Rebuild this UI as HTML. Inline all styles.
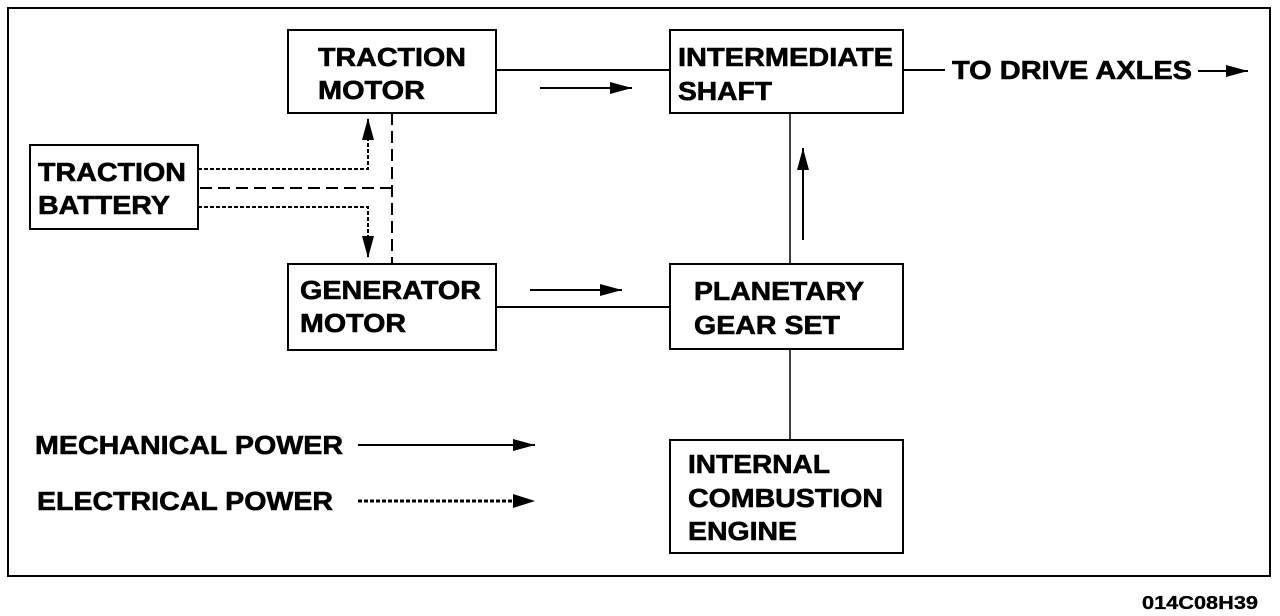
<!DOCTYPE html>
<html><head><style>html,body{margin:0;padding:0;background:#fff}svg{display:block}text{font-family:"Liberation Sans",Arial,sans-serif;font-size:26px;font-weight:bold;fill:#000}</style></head>
<body>
<svg width="1280" height="616" viewBox="0 0 1280 616" xmlns="http://www.w3.org/2000/svg">
<defs>
<marker id="a" markerWidth="22" markerHeight="14" refX="22" refY="7" orient="auto" markerUnits="userSpaceOnUse"><path d="M0,1 L22,7 L0,13 Z" fill="#000"/></marker>
</defs>
<g fill="none" stroke="#000" stroke-width="2">
<rect x="8" y="8" width="1262" height="568"/>
<rect x="288" y="30" width="208" height="83"/>
<rect x="30" y="145" width="168" height="84"/>
<rect x="288" y="264" width="208" height="86"/>
<rect x="670" y="30" width="233" height="83"/>
<rect x="670" y="264" width="233" height="85"/>
<rect x="670" y="440" width="233" height="113"/>
<line x1="496" y1="70" x2="670" y2="70"/>
<line x1="540" y1="88" x2="632" y2="88" marker-end="url(#a)"/>
<line x1="496" y1="307" x2="670" y2="307"/>
<line x1="530" y1="290" x2="622" y2="290" marker-end="url(#a)"/>
<line x1="790" y1="113" x2="790" y2="264" stroke-width="1.5"/>
<line x1="803" y1="240" x2="803" y2="148" marker-end="url(#a)"/>
<line x1="790" y1="349" x2="790" y2="440" stroke-width="1.5"/>
<line x1="903" y1="70" x2="945" y2="70"/>
<line x1="1198" y1="71" x2="1248" y2="71" marker-end="url(#a)"/>
<line x1="358" y1="445" x2="535" y2="445" marker-end="url(#a)"/>
<line x1="358" y1="501" x2="518" y2="501" stroke-dasharray="4,2" stroke-width="3"/>
<path d="M198,169 H368 V118" stroke-dasharray="4,2" marker-end="url(#a)"/>
<path d="M198,207 H368 V258" stroke-dasharray="4,2" marker-end="url(#a)"/>
<line x1="200" y1="188" x2="392" y2="188" stroke-dasharray="12,6"/>
<line x1="392" y1="113" x2="392" y2="264" stroke-dasharray="12,6"/>
<path d="M513,494 L535,501 L513,508 Z" fill="#000" stroke="none"/>
</g>
<g style="font-weight:normal" stroke="#000" stroke-width="0.6">
<text x="318" y="66" textLength="148" lengthAdjust="spacingAndGlyphs">TRACTION</text>
<text x="318" y="99" textLength="107" lengthAdjust="spacingAndGlyphs">MOTOR</text>
<text x="38" y="181" textLength="148" lengthAdjust="spacingAndGlyphs">TRACTION</text>
<text x="38" y="214" textLength="132" lengthAdjust="spacingAndGlyphs">BATTERY</text>
<text x="300" y="299" textLength="181" lengthAdjust="spacingAndGlyphs">GENERATOR</text>
<text x="300" y="332" textLength="106" lengthAdjust="spacingAndGlyphs">MOTOR</text>
<text x="678" y="66" textLength="215" lengthAdjust="spacingAndGlyphs">INTERMEDIATE</text>
<text x="678" y="100" textLength="94" lengthAdjust="spacingAndGlyphs">SHAFT</text>
<text x="694" y="300" textLength="170" lengthAdjust="spacingAndGlyphs">PLANETARY</text>
<text x="694" y="334" textLength="146" lengthAdjust="spacingAndGlyphs">GEAR SET</text>
<text x="688" y="473" textLength="142" lengthAdjust="spacingAndGlyphs">INTERNAL</text>
<text x="688" y="507" textLength="195" lengthAdjust="spacingAndGlyphs">COMBUSTION</text>
<text x="688" y="540" textLength="109" lengthAdjust="spacingAndGlyphs">ENGINE</text>
<text x="952" y="79" textLength="240" lengthAdjust="spacingAndGlyphs">TO DRIVE AXLES</text>
<text x="35" y="454" textLength="308" lengthAdjust="spacingAndGlyphs">MECHANICAL POWER</text>
<text x="37" y="510" textLength="296" lengthAdjust="spacingAndGlyphs">ELECTRICAL POWER</text>
<text x="1142" y="609" style="font-size:18px" stroke-width="0.3" textLength="116" lengthAdjust="spacingAndGlyphs">014C08H39</text>
</g>
</svg>
</body></html>
